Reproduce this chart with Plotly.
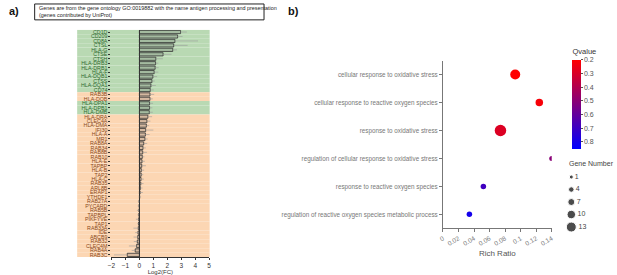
import plotly.graph_objects as go

W, H = 617, 275

# ---------------- Panel a data ----------------
genes = ["CD1D","CD209","CD8A","CTSL","HLA-G","CTSE","CTSH","HLA-DRB3","HLA-DRB1","HLA-F",
         "HLA-DQB1","CTSS","HLA-DQA1","CD74","RAB3B","HLA-DOB","HLA-DPA1","HLA-DPB1","HLA-DMB",
         "HLA-DRA","CLEC4A","HLA-DMA","IFI30","HLA-A","MR1","RAB8A","RAB34","RAB8B","RAB10",
         "HLA-E","TAPBP","HLA-B","TAP2","HLA-C","RAB35","ARL8B","ERAP1","YTHDF1","RAB27A",
         "PYCARD","RAB5B","TAPBPL","PIKFYVE","TAP1","RAB33A","IDE","ABCB9","RAB32","CLEC4M",
         "RAB4A","RAB3C"]
log2fc = [2.95,2.74,2.55,2.46,2.39,1.70,1.18,1.16,1.13,1.06,
          0.97,0.90,0.83,0.78,0.76,0.76,0.73,0.73,0.71,
          0.61,0.54,0.50,0.45,0.43,0.40,0.31,0.26,0.24,0.21,
          0.19,0.17,0.14,0.13,0.12,0.10,0.07,0.05,0.02,-0.01,
          -0.02,-0.03,-0.04,-0.05,-0.06,-0.08,-0.10,-0.12,-0.15,-0.20,
          -0.30,-0.87]
fc_err = [0.45,0.35,1.65,1.00,0.30,0.60,0.50,0.20,0.25,0.30,
          0.30,0.20,0.35,0.25,0.30,0.20,0.25,0.20,0.25,
          0.30,0.25,0.20,0.55,0.30,0.20,0.25,0.20,0.30,0.15,
          0.20,0.30,0.20,0.15,0.20,0.20,0.15,0.20,0.10,0.10,
          0.10,0.15,0.10,0.20,0.10,0.35,0.20,0.30,0.25,0.55,
          0.25,0.95]
# group: 1 = green, 0 = orange
group = [1]*14 + [0]*2 + [1]*3 + [0]*32

green_bg, orange_bg = "#b9d9b3", "#fcd6b3"
green_tx, orange_tx = "#2f6b2f", "#8a4a1c"

# ---------------- Panel b data ----------------
terms = ["cellular response to oxidative stress",
         "cellular response to reactive oxygen species",
         "response to oxidative stress",
         "regulation of cellular response to oxidative stress",
         "response to reactive oxygen species",
         "regulation of reactive oxygen species metabolic process"]
rich_ratio = [0.093, 0.124, 0.074, 0.140, 0.052, 0.034]
qvalue = [0.20, 0.22, 0.29, 0.50, 0.69, 0.80]
gene_number = [13, 8, 16, 3, 4, 4]
legend_counts = [1, 4, 7, 10, 13]
q_ticks = [0.2, 0.3, 0.4, 0.5, 0.6, 0.7, 0.8]
rr_ticks = [0, 0.02, 0.04, 0.06, 0.08, 0.1, 0.12, 0.14]

def diam(n):
    return 3.5 + 0.5 * n

def px(x):
    return x / W

def py(y):
    return 1 - y / H

fig = go.Figure()

idx = list(range(len(genes)))
fig.add_trace(go.Bar(
    x=log2fc, y=idx, orientation="h",
    marker=dict(color="rgba(110,110,110,0.28)", line=dict(color="#333333", width=0.8)),
    width=0.72,
    error_x=dict(type="data", symmetric=False,
                 array=[e if v >= 0 else 0 for v, e in zip(log2fc, fc_err)],
                 arrayminus=[e if v < 0 else 0 for v, e in zip(log2fc, fc_err)],
                 color="#9a9a9a", thickness=0.6, width=0),
    xaxis="x", yaxis="y", showlegend=False))

fig.add_trace(go.Scatter(
    x=rich_ratio, y=list(range(len(terms))), mode="markers",
    marker=dict(size=[diam(n) for n in gene_number],
                color=[-q for q in qvalue],
                colorscale=[[0, "#0000ff"], [1, "#ff0000"]],
                cmin=-0.85, cmax=-0.2, line=dict(width=0), opacity=1,
                colorbar=dict(
                    title=dict(text="Qvalue", side="top", font=dict(size=7.5, color="#333")),
                    tickvals=[-q for q in q_ticks], ticktext=[str(q) for q in q_ticks],
                    tickfont=dict(size=7, color="#555"),
                    ticks="outside", ticklen=2, tickcolor="#555",
                    x=px(574), xanchor="left", y=py(45), yanchor="top",
                    len=104 / H, lenmode="fraction", thickness=9,
                    outlinewidth=0, xpad=0, ypad=0)),
    xaxis="x2", yaxis="y2", showlegend=False))

fig.add_trace(go.Scatter(
    x=[0.2] * len(legend_counts), y=list(range(len(legend_counts))),
    mode="markers+text", text=[str(c) for c in legend_counts], textposition="middle right",
    textfont=dict(size=7, color="#444"),
    marker=dict(size=[diam(c) for c in legend_counts], color="black"),
    xaxis="x3", yaxis="y3", showlegend=False, hoverinfo="skip"))

shapes = []
for i, g in enumerate(group):
    shapes.append(dict(type="rect", xref="paper", yref="y",
                       x0=px(73), x1=px(207), y0=i - 0.5, y1=i + 0.5,
                       fillcolor=green_bg if g else orange_bg, line=dict(width=0), layer="below"))
shapes.append(dict(type="rect", xref="paper", yref="paper",
                   x0=px(30), x1=px(262), y0=py(19), y1=py(3),
                   line=dict(color="#222", width=1), fillcolor="rgba(0,0,0,0)"))

ticktext = ["<span style='color:%s'>%s</span>" % (green_tx if g else orange_tx, n)
            for n, g in zip(genes, group)]

fig.update_layout(
    width=W, height=H, margin=dict(l=0, r=0, t=0, b=0),
    paper_bgcolor="white", plot_bgcolor="rgba(0,0,0,0)",
    font=dict(family="Liberation Sans, Arial, sans-serif"),
    shapes=shapes,
    xaxis=dict(domain=[px(107.7), px(206.5)], range=[-2, 5], tickvals=list(range(-2, 6)),
               showgrid=False, zeroline=True, zerolinecolor="#333", zerolinewidth=1,
               showline=True, linecolor="#333", linewidth=0.8, ticks="outside", ticklen=2,
               tickcolor="#333", tickfont=dict(size=6.5, color="#333"),
               title=dict(text="Log2(FC)", font=dict(size=6, color="#333"), standoff=1)),
    yaxis=dict(domain=[py(258), py(29)], range=[len(genes) - 0.5, -0.5],
               tickvals=idx, ticktext=ticktext, tickfont=dict(size=5.3),
               showgrid=False, zeroline=False, showline=False,
               ticks="outside", ticklen=2, tickcolor="#333"),
    xaxis2=dict(domain=[px(443), px(553)], range=[0, 0.14], tickvals=rr_ticks,
                ticktext=[str(t) if t else "0" for t in rr_ticks], tickangle=-30,
                showgrid=False, zeroline=False, showline=True, linecolor="#777", linewidth=1,
                ticks="outside", ticklen=3, tickcolor="#777",
                tickfont=dict(size=6.5, color="#777"), anchor="y2",
                title=dict(text="Rich Ratio", font=dict(size=8, color="#555"), standoff=4)),
    yaxis2=dict(domain=[py(229), py(60)], range=[len(terms) - 0.5, -0.5],
                tickvals=list(range(len(terms))), ticktext=terms,
                tickfont=dict(size=6.3, color="#777"), anchor="x2",
                showgrid=False, zeroline=False, showline=True, linecolor="#777", linewidth=1,
                ticks="outside", ticklen=3, tickcolor="#777"),
    xaxis3=dict(domain=[px(566), px(600)], range=[0, 1], visible=False, anchor="y3"),
    yaxis3=dict(domain=[py(234), py(171)], range=[len(legend_counts) - 0.5, -0.5],
                visible=False, anchor="x3"),
    annotations=[
        dict(text="<b>a)</b>", x=px(2), y=py(10), xref="paper", yref="paper",
             xanchor="left", yanchor="middle", showarrow=False, font=dict(size=11, color="#111")),
        dict(text="<b>b)</b>", x=px(284), y=py(10), xref="paper", yref="paper",
             xanchor="left", yanchor="middle", showarrow=False, font=dict(size=11, color="#111")),
        dict(text="Genes are from the gene ontology GO:0019882 with the name antigen processing and presentation<br>(genes contributed by UniProt)",
             x=px(32), y=py(11), xref="paper", yref="paper", xanchor="left", yanchor="middle",
             align="left", showarrow=False, font=dict(size=5.4, color="#222")),
        dict(text="Gene Number", x=px(568), y=py(164), xref="paper", yref="paper",
             xanchor="left", yanchor="middle", showarrow=False, font=dict(size=7, color="#444")),
    ],
)

fig.write_html("out.html", config={"displayModeBar": False},
               post_script="document.body.style.margin='0';document.body.style.overflow='hidden';")
